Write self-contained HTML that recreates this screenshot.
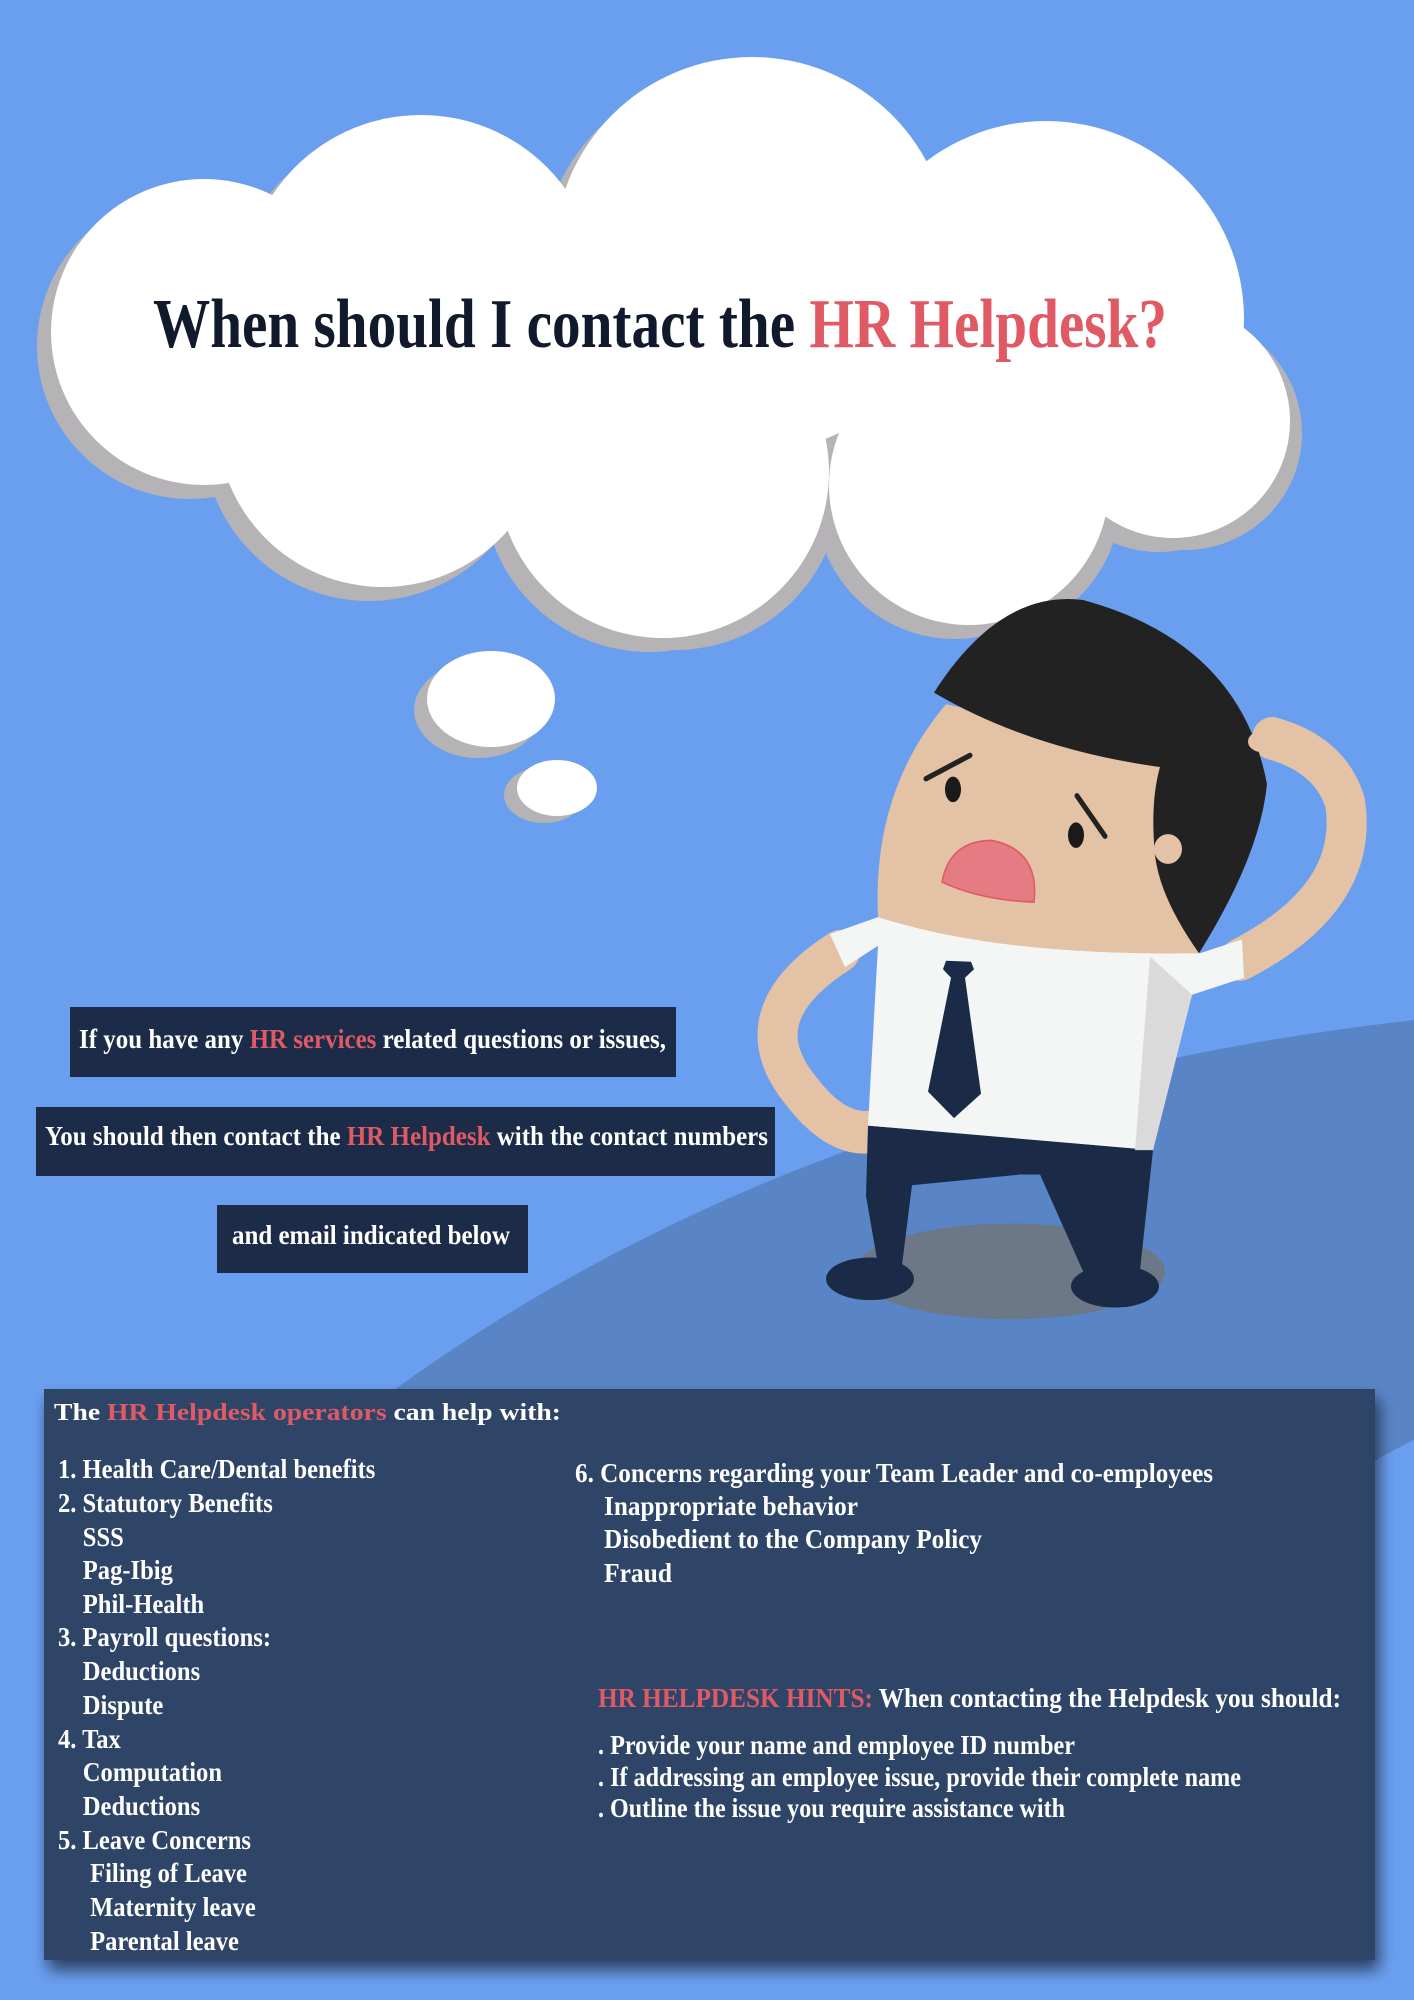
<!DOCTYPE html>
<html><head><meta charset="utf-8"><style>
html,body{margin:0;padding:0;}
body{width:1414px;height:2000px;overflow:hidden;background:#6a9ff0;}
svg{display:block;}
text{font-family:"Liberation Serif",serif;font-weight:bold;}
</style></head><body>
<svg width="1414" height="2000" viewBox="0 0 1414 2000">
<defs>
<filter id="sh" x="-5%" y="-5%" width="115%" height="120%"><feGaussianBlur in="SourceAlpha" stdDeviation="8"/><feOffset dx="4" dy="10"/><feComponentTransfer><feFuncA type="linear" slope="0.6"/></feComponentTransfer><feMerge><feMergeNode/><feMergeNode in="SourceGraphic"/></feMerge></filter>
</defs>
<rect width="1414" height="2000" fill="#6a9ff0"/>
<path d="M380 1400 Q 800 1090 1414 1020 L1414 1440 Q 1250 1520 1100 1700 L380 1700 Z" fill="#5985c7"/>

<g fill="#b5b3b5" transform="translate(-14,14)">
<circle cx="204" cy="332" r="153"/><circle cx="421" cy="293" r="178"/><circle cx="752" cy="255" r="198"/><circle cx="1046" cy="319" r="198"/><circle cx="1173" cy="421" r="117"/><circle cx="969" cy="485" r="140"/><circle cx="663" cy="472" r="166"/><circle cx="383" cy="421" r="166"/>
</g>
<g fill="#b5b3b5" transform="translate(12,12)">
<circle cx="1173" cy="421" r="117"/><circle cx="969" cy="485" r="140"/><circle cx="663" cy="472" r="166"/>
</g>
<g fill="#ffffff">
<circle cx="204" cy="332" r="153"/><circle cx="421" cy="293" r="178"/><circle cx="752" cy="255" r="198"/><circle cx="1046" cy="319" r="198"/><circle cx="1173" cy="421" r="117"/><circle cx="969" cy="485" r="140"/><circle cx="663" cy="472" r="166"/><circle cx="383" cy="421" r="166"/>
</g>
<ellipse cx="478" cy="710" rx="64" ry="48" fill="#b5b3b5"/>
<ellipse cx="491" cy="699" rx="64" ry="48" fill="#fff"/>
<ellipse cx="544" cy="795" rx="40" ry="28" fill="#b5b3b5"/>
<ellipse cx="557" cy="788" rx="40" ry="28" fill="#fff"/>

<text x="153" y="347" font-size="70" textLength="1014" lengthAdjust="spacingAndGlyphs" fill="#111a2c">When should I contact the <tspan fill="#e05a65">HR Helpdesk?</tspan></text>

<g transform="translate(0,600) scale(1,1.064) translate(0,-600)">
<ellipse cx="1010" cy="1231" rx="155" ry="45" fill="#6c7788"/>
<path d="M840 930 Q 740 990 800 1060 Q 840 1110 880 1098" fill="none" stroke="#e4c2a6" stroke-width="40" stroke-linecap="round"/>
<path d="M1240 938 Q 1360 880 1345 790 Q 1330 745 1272 730" fill="none" stroke="#e4c2a6" stroke-width="40" stroke-linecap="round"/>
<path d="M868 1094 L866 1160 L878 1225 L900 1240 L912 1150 L1020 1140 L1040 1140 L1085 1235 L1110 1245 L1140 1230 L1153 1117 Z" fill="#1b2b47"/>
<ellipse cx="870" cy="1238" rx="44" ry="20" fill="#1b2b47"/>
<ellipse cx="1115" cy="1245" rx="44" ry="20" fill="#1b2b47"/>
<path d="M830 914 L878 898 L1200 932 L1242 919 L1244 955 L1192 971 L1153 1117 L868 1094 L878 925 L845 945 Z" fill="#f4f6f6"/>
<path d="M1150 935 L1192 971 L1153 1117 L1135 1117 Z" fill="#dadada"/>
<path d="M946 939 L971 940 L974 947 L965 955 L981 1064 L954 1087 L928 1062 L951 955 L943 947 Z" fill="#1b2b47"/>
<path d="M878 898 Q 872 780 946 698 L1160 740 L1200 932 Q 1000 935 878 898 Z" fill="#e4c2a6"/>
<path d="M934 687 Q 1000 590 1083 600 Q 1240 640 1267 773 Q 1260 840 1199 932 Q 1160 880 1155 840 Q 1150 790 1160 757 Q 1030 740 934 687 Z" fill="#222222"/>
<circle cx="1168" cy="834" r="14" fill="#e4c2a6"/>
<ellipse cx="953" cy="778" rx="8" ry="12" fill="#1a1a1a"/>
<ellipse cx="1076" cy="821" rx="8" ry="12" fill="#1a1a1a"/>
<line x1="926" y1="768" x2="970" y2="746" stroke="#222" stroke-width="5" stroke-linecap="round"/>
<line x1="1077" y1="784" x2="1105" y2="822" stroke="#222" stroke-width="5" stroke-linecap="round"/>
<path d="M942 865 Q 950 826 992 826 Q 1040 835 1034 884 Q 980 882 942 865 Z" fill="#e57b83" stroke="#e05a65" stroke-width="1.5"/>
<ellipse cx="1262" cy="733" rx="14" ry="10" fill="#e4c2a6"/>
</g>

<rect x="70" y="1007" width="606" height="70" fill="#1c2b48"/>
<text x="79" y="1048" font-size="27" textLength="587" lengthAdjust="spacingAndGlyphs" fill="#fff">If you have any <tspan fill="#e05a65">HR services</tspan> related questions or issues,</text>
<rect x="36" y="1107" width="739" height="69" fill="#1c2b48"/>
<text x="45" y="1145" font-size="27" textLength="723" lengthAdjust="spacingAndGlyphs" fill="#fff">You should then contact the <tspan fill="#e05a65">HR Helpdesk</tspan> with the contact numbers</text>
<rect x="217" y="1205" width="311" height="68" fill="#1c2b48"/>
<text x="232" y="1244" font-size="27" textLength="278" lengthAdjust="spacingAndGlyphs" fill="#fff">and email indicated below</text>

<rect x="44" y="1389" width="1331" height="571" fill="#2f4568" filter="url(#sh)"/>
<text x="54" y="1420" font-size="24" textLength="507" lengthAdjust="spacingAndGlyphs" fill="#fff">The <tspan fill="#e05a65">HR Helpdesk operators</tspan> can help with:</text>

<g fill="#fff" font-size="27" transform="scale(0.91,1)">
<text x="63.7" y="1478">1. Health Care/Dental benefits</text>
<text x="63.7" y="1512">2. Statutory Benefits</text>
<text x="91" y="1546">SSS</text>
<text x="91" y="1579">Pag-Ibig</text>
<text x="91" y="1613">Phil-Health</text>
<text x="63.7" y="1646">3. Payroll questions:</text>
<text x="91" y="1680">Deductions</text>
<text x="91" y="1714">Dispute</text>
<text x="63.7" y="1748">4. Tax</text>
<text x="91" y="1781">Computation</text>
<text x="91" y="1815">Deductions</text>
<text x="63.7" y="1849">5. Leave Concerns</text>
<text x="99" y="1882">Filing of Leave</text>
<text x="99" y="1916">Maternity leave</text>
<text x="99" y="1950">Parental leave</text>
</g>

<g fill="#fff" font-size="27">
<text x="575" y="1482" textLength="638" lengthAdjust="spacingAndGlyphs">6. Concerns regarding your Team Leader and co-employees</text>
<text x="604" y="1515" textLength="254" lengthAdjust="spacingAndGlyphs">Inappropriate behavior</text>
<text x="604" y="1548" textLength="378" lengthAdjust="spacingAndGlyphs">Disobedient to the Company Policy</text>
<text x="604" y="1582" textLength="68" lengthAdjust="spacingAndGlyphs">Fraud</text>
</g>
<g fill="#fff" font-size="27">
<text x="598" y="1707" textLength="743" lengthAdjust="spacingAndGlyphs"><tspan fill="#e05a65">HR HELPDESK HINTS:</tspan> When contacting the Helpdesk you should:</text>
<text x="598" y="1754" textLength="477" lengthAdjust="spacingAndGlyphs">. Provide your name and employee ID number</text>
<text x="598" y="1786" textLength="643" lengthAdjust="spacingAndGlyphs">. If addressing an employee issue, provide their complete name</text>
<text x="598" y="1817" textLength="467" lengthAdjust="spacingAndGlyphs">. Outline the issue you require assistance with</text>
</g>
</svg>
</body></html>
